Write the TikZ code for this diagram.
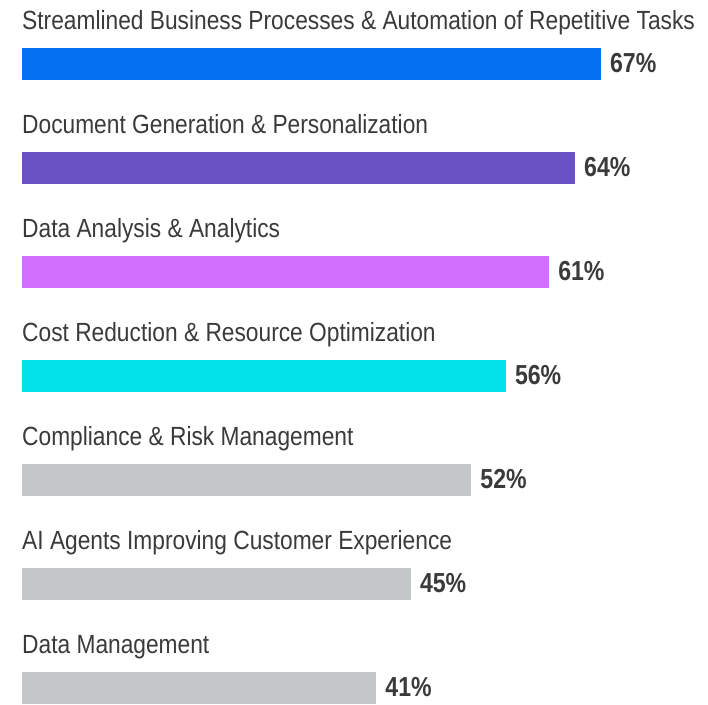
\documentclass[tikz,border=0pt]{standalone}
\usepackage{fontspec}
\setmainfont{Liberation Sans}
\newfontfamily\labfont[FakeStretch=0.865]{Liberation Sans}
\newfontfamily\pctfont[FakeStretch=0.84]{Liberation Sans Bold}
\definecolor{cblue}{HTML}{0371F0}
\definecolor{cpurple}{HTML}{6A52C4}
\definecolor{cmagenta}{HTML}{D170FF}
\definecolor{ccyan}{HTML}{03E2EA}
\definecolor{cgray}{HTML}{C4C7C8}
\definecolor{ctext}{HTML}{3A3A3A}
\begin{document}
\begin{tikzpicture}[x=1pt,y=-1pt,
  bar/.style={inner sep=0pt, outer sep=0pt, draw=none, minimum height=31.4pt, anchor=north west},
  lab/.style={inner sep=0pt, anchor=base west, text=ctext, font=\labfont\fontsize{26.3}{30}\selectfont},
  pct/.style={inner sep=0pt, anchor=base west, text=ctext, font=\pctfont\fontsize{27.5}{30}\selectfont}]
\useasboundingbox (0,0) rectangle (708,704);
\foreach \i/\v/\c/\t in {
  0/67/cblue/{Streamlined Business Processes \& Automation of Repetitive Tasks},
  1/64/cpurple/{Document Generation \& Personalization},
  2/61/cmagenta/{Data Analysis \& Analytics},
  3/56/ccyan/{Cost Reduction \& Resource Optimization},
  4/52/cgray/{Compliance \& Risk Management},
  5/45/cgray/{AI Agents Improving Customer Experience},
  6/41/cgray/{Data Management}}{
  \pgfmathsetmacro{\top}{48.3+104*\i}
  \pgfmathsetmacro{\w}{8.64*\v}
  \node[lab] (lab\i) at (22,\top-19) {\t};
  \node[bar, fill=\c, minimum width=\w pt] (bar\i) at (22,\top) {};
  \node[pct] (pct\i) at ([xshift=9pt,yshift=-8.3pt]bar\i.east) {\v\%};
}
\end{tikzpicture}
\end{document}
